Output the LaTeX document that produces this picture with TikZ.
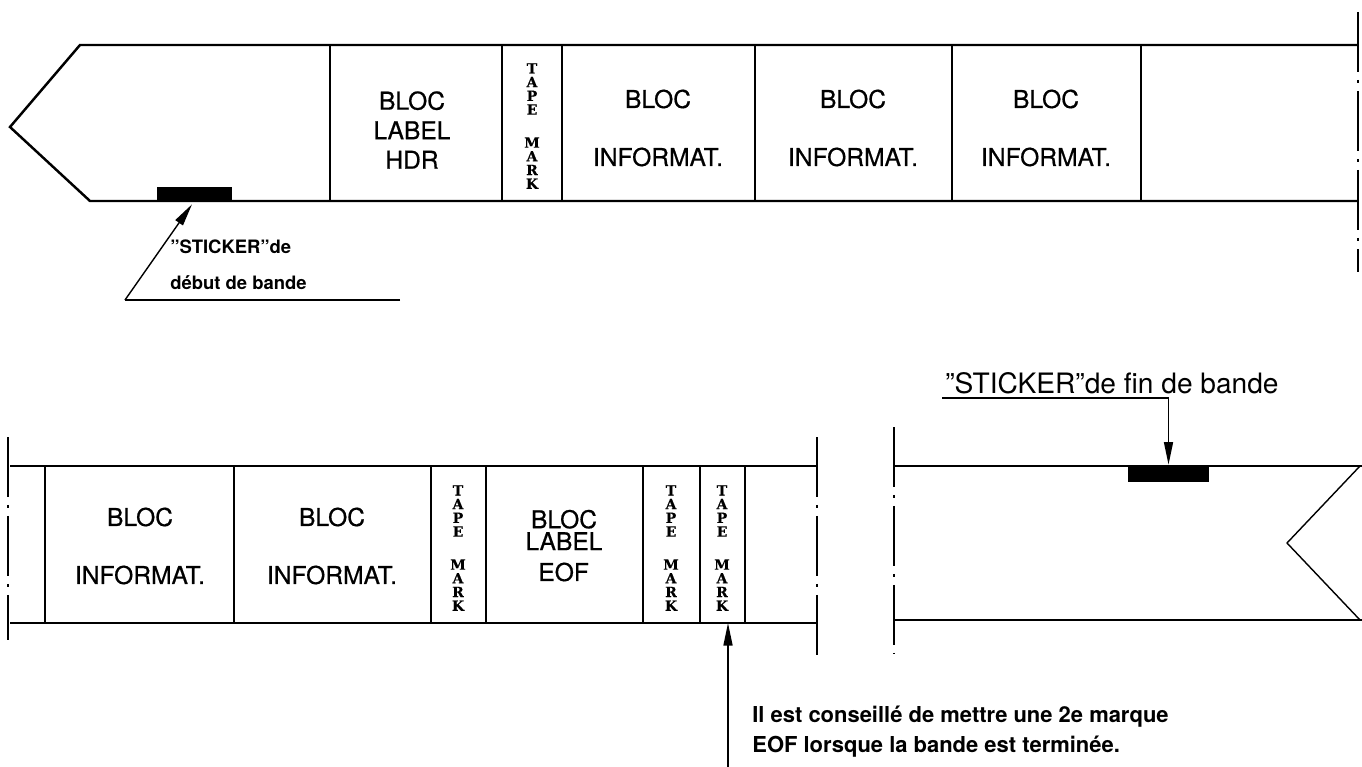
\documentclass[tikz,border=0pt]{standalone}
\usepackage{fontspec}
\setmainfont{TeX Gyre Heros}
\newfontfamily\medfont{TeX Gyre Heros}[FakeBold=0.6]
\newfontfamily\markfont{DejaVu Serif}[FakeBold=0.4]
\usetikzlibrary{arrows.meta, positioning, calc}

\tikzset{
  tape/.style={line width=1.4pt},
  cutedge/.style={line width=0.9pt, dash pattern=on 1.2cm off 0.16cm on 0.06cm off 0.16cm},
  sep/.style={line width=0.8pt},
  bloc/.style={align=center, inner sep=0pt, font=\medfont\fontsize{14}{33}\selectfont},
  tmark/.style={align=center, inner sep=0pt, font=\markfont\bfseries\fontsize{8}{7.8}\selectfont},
  sticker/.style={fill=black, inner sep=0pt},
  note/.style={align=left, inner sep=0pt, font=\bfseries\fontsize{10.5}{20.5}\selectfont},
  pointer/.style={line width=0.8pt, -{Triangle[length=0.45cm, width=0.18cm]}}
}
\newcommand{\tapemark}{T\\A\\P\\E\\[11pt]M\\A\\R\\K}

\begin{document}
\begin{tikzpicture}[x=0.02cm, y=-0.02cm]
  \useasboundingbox (0,0) rectangle (1362,767);

  % debut de bande
  \draw[tape] (1358,45) -- (80,45) -- (10,127) -- (90,201) -- (1358,201);
  \draw[cutedge] (1358,12) -- (1358,272);
  \foreach \x in {330,502,562,755,952,1141}
    \draw[sep] (\x,45) -- (\x,201);

  \node[bloc, font=\medfont\fontsize{14}{16.8}\selectfont] (hdr) at (412,130) {BLOC\\LABEL\\HDR};
  \node[tmark] (tm1) at (532,126) {\tapemark};
  \foreach \x/\n in {658/a, 853/b, 1046/c}
    \node[bloc] (info\n) at (\x,128) {BLOC\\INFORMAT.};

  \node[sticker, minimum width=1.5cm, minimum height=0.28cm] (stkA) at (194.5,194) {};
  \coordinate (cornerA) at (125,300);
  \coordinate (endA) at (400,300);
  \node[note, anchor=north west] (noteA) at (170,239) {"STICKER"de\\début de bande};
  \draw[sep] (endA) -- (cornerA);
  \draw[pointer] (cornerA) -- ([xshift=-0.05cm, yshift=-0.06cm]stkA.south);

  % suite de la bande
  \draw[tape] (10,466) -- (817,466);
  \draw[tape] (10,623) -- (817,623);
  \draw[cutedge] (8,437) -- (8,640);
  \draw[cutedge] (817,437) -- (817,662);
  \foreach \x in {45,234,431,486,643,700,745}
    \draw[sep] (\x,466) -- (\x,623);

  \node[bloc] (infod) at (140,546) {BLOC\\INFORMAT.};
  \node[bloc] (infoe) at (332,546) {BLOC\\INFORMAT.};
  \node[tmark] (tm2) at (458,548) {\tapemark};
  \node[bloc, font=\medfont\fontsize{14}{12.5}\selectfont] (eof) at (564,530) {BLOC\\LABEL};
  \node[bloc, anchor=west] (eoftxt) at (538,572) {EOF};
  \node[tmark] (tm3) at (671,548) {\tapemark};
  \node[tmark] (tm4) at (722,548) {\tapemark};

  \coordinate (eofEnd) at (728,623);
  \coordinate (startC) at (728,767);
  \draw[pointer] (startC) -- (eofEnd);
  \node[note, anchor=base west, font=\bfseries\fontsize{12.5}{17}\selectfont] (noteC) at (752,752)
    {Il est conseillé de mettre une 2e marque\\EOF lorsque la bande est terminée.};

  % fin de bande
  \draw[tape] (894,466) -- (1362,466);
  \draw[tape] (894,620) -- (1362,620);
  \draw[sep] (1360,466) -- (1287,543) -- (1360,620);
  \draw[cutedge] (894,427) -- (894,653);

  \node[sticker, minimum width=1.62cm, minimum height=0.34cm] (stkB) at (1168.5,473.5) {};
  \coordinate (startB) at (942,398);
  \node[anchor=base west, inner sep=0pt, font=\fontsize{16}{18}\selectfont] (noteB) at (945,393) {"STICKER"de fin de bande};
  \draw[pointer] (startB) -| (stkB.north);
\end{tikzpicture}
\end{document}
